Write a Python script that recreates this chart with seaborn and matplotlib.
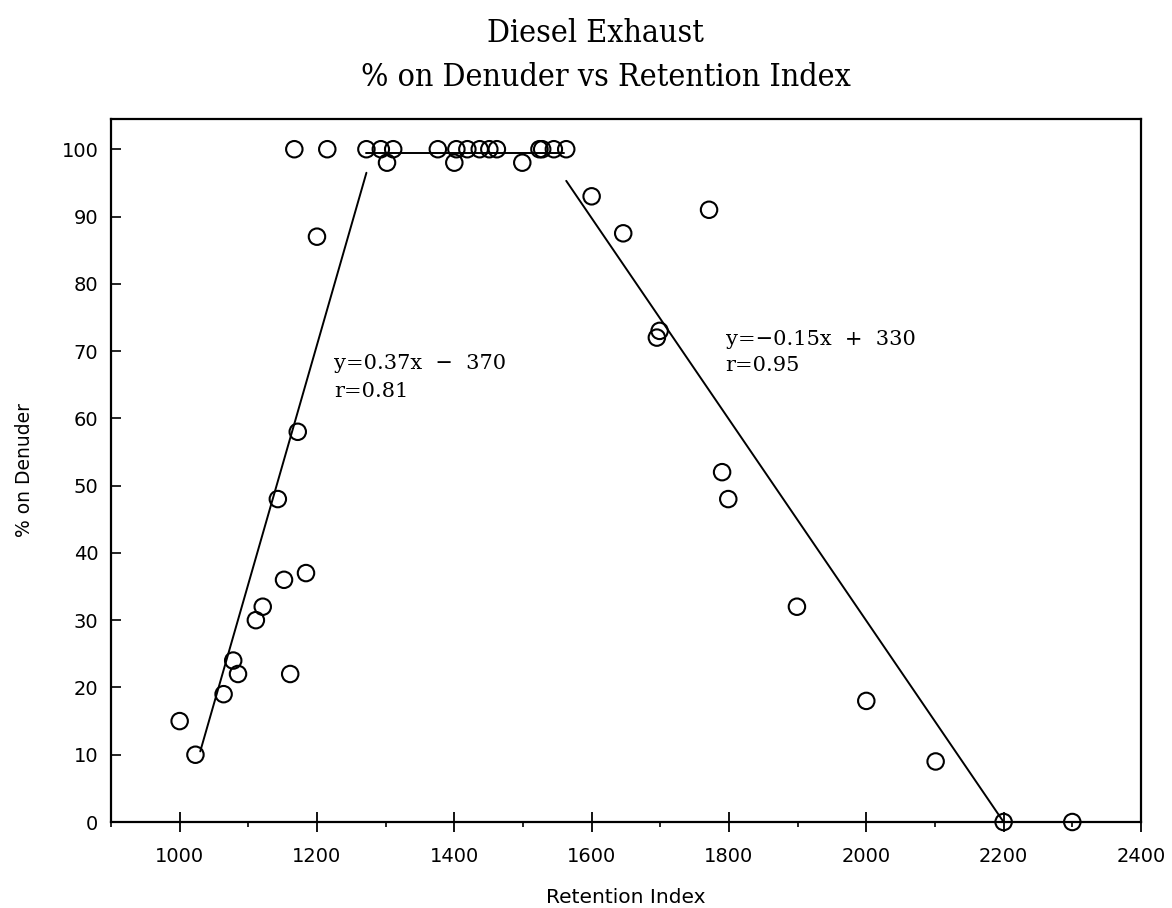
import matplotlib
matplotlib.use("Agg")
import matplotlib.pyplot as plt
import seaborn as sns
import pandas as pd
from matplotlib.ticker import MultipleLocator

# ---- data ----
retention_index = [1000, 1023, 1064, 1078, 1085, 1111, 1121, 1143, 1152, 1161, 1172, 1184,
                   1200, 1167, 1215,
                   1272, 1293, 1302, 1311, 1376, 1400, 1403, 1419, 1437, 1451, 1462, 1499,
                   1524, 1528, 1545, 1563,
                   1600, 1646, 1695, 1699, 1771, 1790, 1799, 1899, 2000, 2101, 2200, 2300]
pct_on_denuder = [15, 10, 19, 24, 22, 30, 32, 48, 36, 22, 58, 37,
                  87, 100, 100,
                  100, 100, 98, 100, 100, 98, 100, 100, 100, 100, 100, 98,
                  100, 100, 100, 100,
                  93, 87.5, 72, 73, 91, 52, 48, 32, 18, 9, 0, 0]

# fitted line segments (endpoints as drawn)
rise_x = [1030, 1272]
rise_y = [10.5, 96.5]
plateau_x = [1272, 1560]
plateau_y = [99.5, 99.5]
fall_x = [1563, 2200]
fall_y = [95.3, 0]

fit_rise_label = "y=0.37x  \u2212  370\nr=0.81"
fit_fall_label = "y=\u22120.15x  +  330\nr=0.95"

title_1 = "Diesel Exhaust"
title_2 = "% on Denuder vs Retention Index"
x_label = "Retention Index"
y_label = "% on Denuder"

x_ticks = [1000, 1200, 1400, 1600, 1800, 2000, 2200, 2400]
y_ticks = [0, 10, 20, 30, 40, 50, 60, 70, 80, 90, 100]

# ---- plot ----
sns.set_theme(style="white")
plt.rcParams['font.family'] = ['DejaVu Sans']
plt.rcParams['text.color'] = 'black'
plt.rcParams['axes.labelcolor'] = 'black'
plt.rcParams['xtick.color'] = 'black'
plt.rcParams['ytick.color'] = 'black'

fig = plt.figure(figsize=(11.72, 9.08), dpi=100)
ax = fig.add_axes([0.0947, 0.0947, 0.9735 - 0.0947, 0.869 - 0.0947])

df = pd.DataFrame({"x": retention_index, "y": pct_on_denuder})
sns.scatterplot(data=df, x="x", y="y", ax=ax, s=140, facecolors="none",
                edgecolor="black", linewidth=1.5, marker="o", clip_on=False, zorder=3)

for xs, ys in [(rise_x, rise_y), (plateau_x, plateau_y), (fall_x, fall_y)]:
    seg = pd.DataFrame({"x": xs, "y": ys})
    sns.lineplot(data=seg, x="x", y="y", ax=ax, color="black", linewidth=1.4,
                 sort=False, estimator=None, zorder=2)

ax.set_xlim(900, 2400)
ax.set_ylim(0, 104.5)
ax.set_xticks(x_ticks)
ax.set_yticks(y_ticks)
ax.xaxis.set_minor_locator(MultipleLocator(100))

for s in ax.spines.values():
    s.set_linewidth(1.6)
    s.set_color("black")

ax.tick_params(axis="x", which="major", direction="inout", length=14, width=1.3,
               colors="black", labelsize=14, pad=11, bottom=True)
ax.tick_params(axis="x", which="minor", direction="out", length=3.5, width=1.2,
               colors="black", bottom=True)
ax.tick_params(axis="y", which="major", direction="in", length=7, width=1.2,
               colors="black", labelsize=14, pad=9, left=True)

ax.set_xlabel(x_label, fontsize=14.5, labelpad=16, color="black")
ax.set_ylabel(y_label, fontsize=13.5, labelpad=20, color="black")

ax.text(1225, 69.5, fit_rise_label, fontsize=15, family="DejaVu Serif",
        va="top", ha="left", linespacing=1.55, color="black")
ax.text(1795, 73.2, fit_fall_label, fontsize=15, family="DejaVu Serif",
        va="top", ha="left", linespacing=1.5, color="black")

fig.text(0.508, 0.963, title_1, fontsize=23, family="DejaVu Serif",
         fontstretch="condensed", ha="center", va="center", color="black")
fig.text(0.517, 0.915, title_2, fontsize=23, family="DejaVu Serif",
         fontstretch="condensed", ha="center", va="center", color="black")

fig.savefig("out.png", dpi=100, facecolor="white")
